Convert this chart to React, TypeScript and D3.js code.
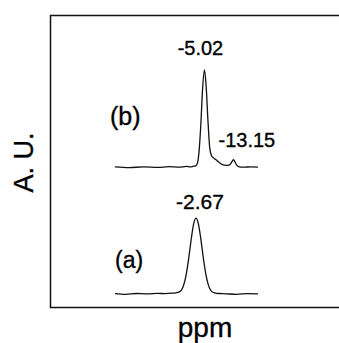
import * as d3 from "d3";

// ppm / intensity
const ppmA = [20, 17, 14, 11, 8, 6, 4, 3, 2, 1, 0.5, 0, -0.5, -1, -1.5, -2, -2.67, -3.3, -4, -4.5, -5, -5.5, -6, -6.5, -7, -8, -9, -11, -14, -17, -20];
const intA = [0.3, -0.4, 0.5, 0.1, 0.6, 0.4, 0.8, 1.2, 2.2, 7, 12.9, 21.8, 33.5, 47.3, 61, 72, 78, 72.6, 56.8, 42.8, 29.5, 18.6, 10.7, 5.6, 2.7, 1, 0.5, 0.2, -0.3, 0.4, 0.1];

const ppmB = [20, 16, 12, 8, 5, 2, 0, -1, -2, -2.5, -3, -3.5, -4, -4.5, -5.02, -5.5, -6, -6.5, -7, -7.5, -8, -8.5, -9.5, -10.5, -11.5, -12.3, -12.8, -13.15, -13.5, -14, -14.5, -16, -18, -20];
const intB = [0.5, -0.3, 0.6, 0, 0.7, 0.2, 1.0, 0.5, 1.2, 1.5, 3.8, 15.7, 43.5, 80.6, 100, 83, 48, 20, 12, 10, 8.5, 7, 4, 2.3, 2, 3.5, 6.5, 8, 6, 2.5, 0.8, 0.2, 0.6, 0.3];

const offsetB = 130;

const peakLabels = ["-5.02", "-13.15", "-2.67"];
const peakPpm = [-5.02, -13.15, -2.67];
const traceLabels = ["(b)", "(a)"];

const W = 339;
const H = 343;
const font = "'Liberation Sans', Arial, sans-serif";

export default function App() {
  const x = d3.scaleLinear().domain([20, -20]).range([115, 258]);
  const y = d3.scaleLinear().domain([0, 230]).range([294, 70]);

  const line = d3
    .line<[number, number]>()
    .x((d) => x(d[0]))
    .y((d) => y(d[1]))
    .curve(d3.curveMonotoneX);

  const dataA: [number, number][] = ppmA.map((p, i) => [p, intA[i]]);
  const dataB: [number, number][] = ppmB.map((p, i) => [p, intB[i] + offsetB]);

  return (
    <svg
      width={W}
      height={H}
      style={{ position: "absolute", left: 0, top: 0, display: "block", background: "#fff" }}
    >
      {/* frame */}
      <path d={`M${W},15.5H50.5V307.5H${W}`} fill="none" stroke="#111" strokeWidth={1.5} />

      <path d={line(dataA) || ""} fill="none" stroke="#111" strokeWidth={1.3} />
      <path d={line(dataB) || ""} fill="none" stroke="#111" strokeWidth={1.3} />

      <g fontFamily={font} fill="#000" stroke="#000" strokeWidth={0.35}>
        <text x={x(peakPpm[0]) - 4} y={55} fontSize={20} textAnchor="middle">
          {peakLabels[0]}
        </text>
        <text x={x(peakPpm[1]) - 15} y={147} fontSize={20}>
          {peakLabels[1]}
        </text>
        <text x={x(peakPpm[2]) + 4} y={209} fontSize={21} textAnchor="middle">
          {peakLabels[2]}
        </text>
        <text x={110} y={125} fontSize={25}>
          {traceLabels[0]}
        </text>
        <text x={115} y={268} fontSize={23}>
          {traceLabels[1]}
        </text>
        <text
          transform="translate(33,162.5) rotate(-90)"
          fontSize={27}
          textAnchor="middle"
        >
          A. U.
        </text>
        <text x={205} y={337} fontSize={28} textAnchor="middle">
          ppm
        </text>
      </g>
    </svg>
  );
}
